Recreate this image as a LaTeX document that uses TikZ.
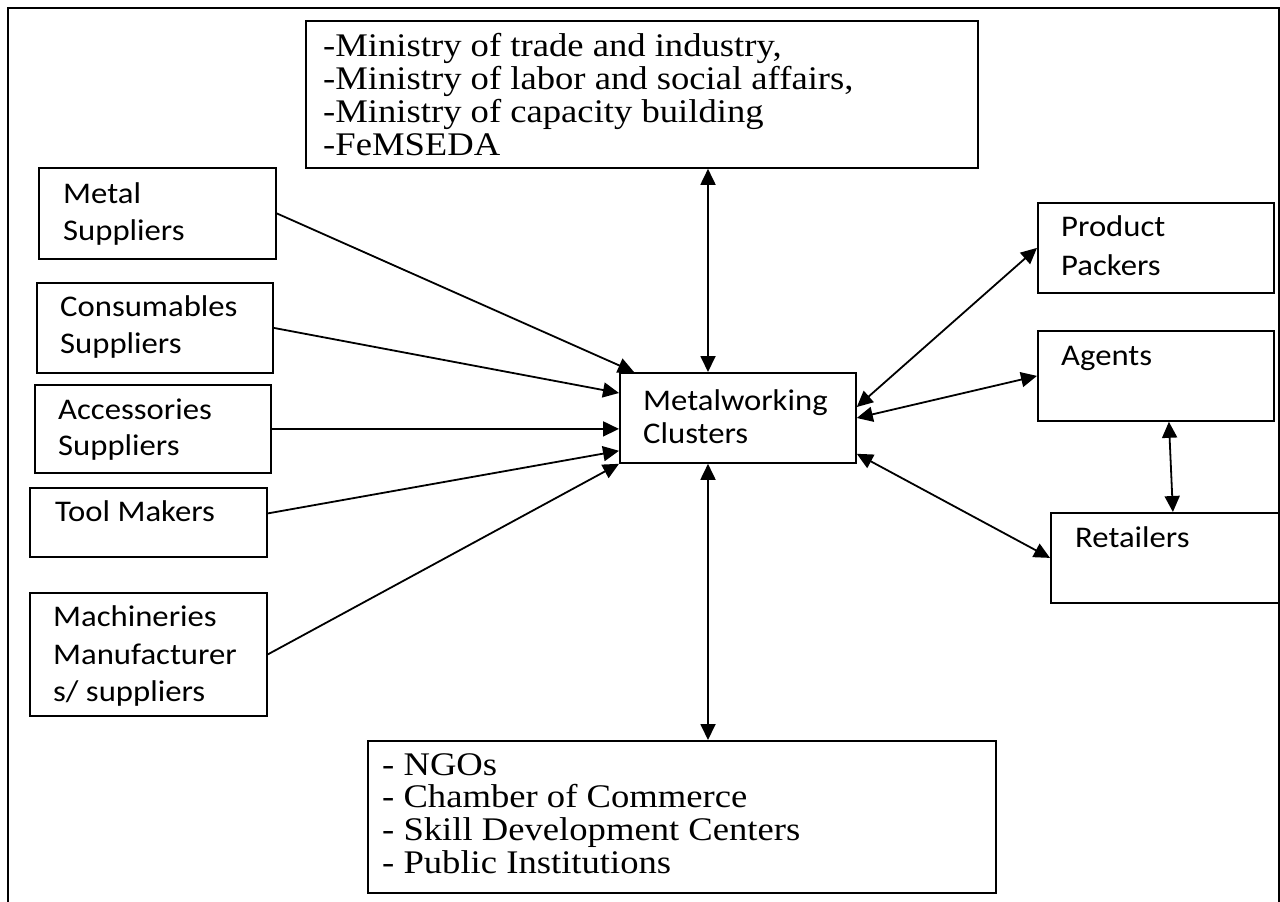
\documentclass[tikz,border=0pt]{standalone}
\usepackage{fontspec}
\setmainfont[FakeStretch=1.11]{Liberation Serif}
\newfontfamily\calfont[FakeStretch=1.09]{Carlito}
\usetikzlibrary{arrows.meta,calc}

% stack of lines with a fixed baseline distance; baseline = first line
\newcommand\linestack[2]{\vtop{\baselineskip=#1\relax\lineskiplimit=-1000pt\lineskip=0pt #2}}

\begin{document}
\begin{tikzpicture}[x=1pt,y=-1pt,
  box/.style={draw, line width=1.8pt, inner sep=0pt, anchor=north west},
  sanstext/.style={inner sep=0pt, anchor=base west, font=\calfont\fontsize{30}{37}\selectfont},
  seriftext/.style={inner sep=0pt, anchor=base west, font=\fontsize{33}{33}\selectfont},
  tip/.style={Triangle[length=16pt,width=15pt]},
  link/.style={line width=1.8pt, -{Triangle[length=16pt,width=15pt]}},
  twoway/.style={line width=1.8pt, {Triangle[length=16pt,width=15pt]}-{Triangle[length=16pt,width=15pt]}}]

\useasboundingbox (0,0) rectangle (1280,902);
\clip (0,0) rectangle (1280,902);

% outer frame (open at the bottom)
\draw[line width=1.8pt] (8,930) -- (8,8) -- (1279,8) -- (1279,930);

% boxes
\node[box, minimum width=672pt, minimum height=147pt] (gov) at (305,20) {};
\node[box, minimum width=237pt, minimum height=91pt] (metal) at (38,167) {};
\node[box, minimum width=236pt, minimum height=90pt] (cons) at (36,282) {};
\node[box, minimum width=236pt, minimum height=88pt] (acc) at (34,384) {};
\node[box, minimum width=237pt, minimum height=69pt] (tool) at (29,487) {};
\node[box, minimum width=237pt, minimum height=123pt] (mach) at (29,592) {};
\node[box, minimum width=236pt, minimum height=90pt] (mc) at (619,372) {};
\node[box, minimum width=236pt, minimum height=90pt] (pp) at (1037,202) {};
\node[box, minimum width=236pt, minimum height=90pt] (agents) at (1037,330) {};
\node[box, minimum width=236pt, minimum height=90pt] (ret) at (1050,512) {};
\node[box, minimum width=628pt, minimum height=152pt] (ngo) at (367,740) {};

% texts
\node[seriftext] (govtext) at (323,56.7) {\linestack{32.8pt}{%
  \hbox{-Ministry of trade and industry,}%
  \hbox{-Ministry of labor and social affairs,}%
  \hbox{-Ministry of capacity building}%
  \hbox{-FeMSEDA}}};
\node[sanstext] (metaltext) at (63,203.3) {\linestack{36.7pt}{\hbox{Metal}\hbox{Suppliers}}};
\node[sanstext] (constext) at (60,316.7) {\linestack{36.3pt}{\hbox{Consumables}\hbox{Suppliers}}};
\node[sanstext] (acctext) at (58,419.3) {\linestack{35.7pt}{\hbox{Accessories}\hbox{Suppliers}}};
\node[sanstext] (tooltext) at (55,521.7) {Tool Makers};
\node[sanstext] (machtext) at (53,626.7) {\linestack{37.5pt}{\hbox{Machineries}\hbox{Manufacturer}\hbox{s/ suppliers}}};
\node[sanstext] (mctext) at (643,410) {\linestack{33.3pt}{\hbox{Metalworking}\hbox{Clusters}}};
\node[sanstext] (pptext) at (1061,236.7) {\linestack{38.3pt}{\hbox{Product}\hbox{Packers}}};
\node[sanstext] (agentstext) at (1061,365) {Agents};
\node[sanstext] (rettext) at (1075,547) {Retailers};
\node[seriftext] (ngotext) at (382,775) {\linestack{32.7pt}{%
  \hbox{- NGOs}%
  \hbox{- Chamber of Commerce}%
  \hbox{- Skill Development Centers}%
  \hbox{- Public Institutions}}};

% connectors
\coordinate (axis) at (708,0);
\draw[twoway] (gov.south -| axis) -- (mc.north -| axis);
\draw[twoway] (mc.south -| axis) -- (ngo.north -| axis);
\draw[link] (metal.east) -- ([xshift=15pt]mc.north west);
\draw[link] (cons.east) -- ([yshift=-21pt]mc.north west);
\draw[link] (acc.east) -- (acc.east -| mc.west);
\draw[link] ([yshift=9pt]tool.east) -- ([yshift=13pt]mc.south west);
\draw[link] (mach.east) -- (mc.south west);
\draw[twoway] ([yshift=-35pt]mc.north east) -- (pp.west);
\draw[twoway] ([yshift=-46pt]mc.north east) -- (agents.west);
\draw[twoway] ([yshift=10pt]mc.south east) -- (ret.west);
\draw[twoway] ([xshift=13pt]agents.south) -- ([xshift=4pt]ret.north);
\end{tikzpicture}
\end{document}
